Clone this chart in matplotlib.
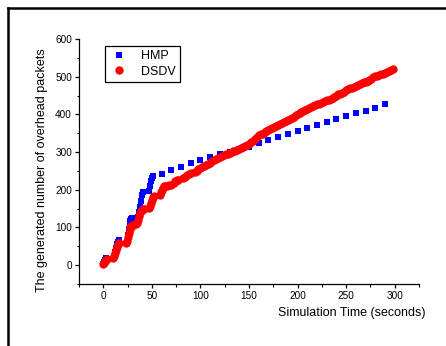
import matplotlib
matplotlib.use('Agg')
import matplotlib.pyplot as plt
from matplotlib.lines import Line2D

plt.rcParams['font.family'] = ['Liberation Sans', 'DejaVu Sans']

# HMP overhead packets (squares)
hmp_t = [0, 1, 2, 3,
         12, 13, 14, 15, 16,
         25, 26, 27, 28, 29, 30,
         36, 37, 38, 39, 40, 41,
         47, 48, 49, 50, 51,
         60, 70, 80, 90, 100, 110, 120, 130, 140, 150, 160, 170, 180,
         190, 200, 210, 220, 230, 240, 250, 260, 270, 280, 290]
hmp_v = [2, 8, 14, 20,
         35, 45, 55, 62, 66,
         80, 95, 108, 118, 122, 124,
         128, 140, 155, 170, 185, 195,
         198, 210, 222, 232, 236,
         243, 252, 261, 270, 279, 287, 294, 300, 307, 314, 324, 332, 340,
         349, 357, 365, 371, 380, 387, 395, 404, 410, 418, 427]

# DSDV overhead packets (circles)
dsdv_t = [0, 1, 2, 3, 4,
          10, 11, 12, 13, 14, 15, 16,
          23, 24, 25, 26, 27, 28, 29, 30, 31,
          34, 35, 36, 37, 38, 39, 40, 41, 42,
          47, 48, 49, 50, 51, 52,
          58, 59, 60, 61, 62,
          64, 66, 68, 70,
          73, 74, 75, 76, 77,
          82, 84, 86, 88, 90,
          94, 96, 98, 100, 102, 104, 106, 108, 110, 112, 114, 116, 118,
          120, 122, 124, 126, 128, 130, 132, 134, 136, 138, 140, 142, 144,
          146, 148, 150, 152, 154, 156, 158, 160, 162, 164, 166, 168, 170,
          172, 174, 176, 178, 180, 182, 184, 186, 188, 190, 192, 194, 196,
          198, 200, 202, 204, 206, 208, 210, 212, 214, 216, 218, 220, 222,
          224, 226, 228, 230, 232, 234, 236, 238, 240, 242, 244, 246, 248,
          250, 252, 254, 256, 258, 260, 262, 264, 266, 268, 270, 272, 274,
          276, 278, 280, 282, 284, 286, 288, 290, 292, 294, 296, 298]
dsdv_v = [2, 6, 10, 14, 17,
          20, 25, 32, 40, 48, 55, 58,
          60, 65, 75, 85, 95, 100, 103, 105, 106,
          110, 112, 120, 130, 138, 143, 146, 148, 149,
          152, 158, 166, 174, 180, 183,
          185, 193, 200, 206, 209,
          210, 211, 212, 213,
          218, 222, 224, 226, 226,
          230, 234, 238, 242, 244,
          246, 250, 254, 258, 261, 262, 265, 268, 272, 276, 279, 282, 284,
          286, 289, 291, 294, 296, 298, 300, 302, 304, 306, 308, 310, 313,
          316, 319, 322, 326, 330, 335, 340, 344, 347, 349, 352, 355, 358,
          360, 363, 366, 368, 371, 374, 377, 380, 382, 385, 388, 391, 394,
          398, 402, 405, 407, 410, 412, 414, 417, 420, 423, 425, 427, 428,
          430, 433, 436, 438, 439, 441, 444, 447, 450, 453, 455, 457, 460,
          464, 467, 470, 471, 473, 475, 478, 481, 484, 486, 487, 488, 491,
          494, 498, 501, 503, 505, 506, 508, 510, 513, 516, 519, 521]

fig = plt.figure(figsize=(4.46, 3.46), dpi=100)
ax = fig.add_axes([79/446, 1-284/346, 340/446, 245/346])

ax.plot(hmp_t, hmp_v, 's', color='#0000ff', markersize=5.0, markeredgewidth=0, label='HMP')
ax.plot(dsdv_t, dsdv_v, 'o', color='#ff0000', markersize=6.0, markeredgewidth=0, label='DSDV')

ax.set_xlim(-25, 325)
ax.set_ylim(-50, 600)
ax.set_xticks([0, 50, 100, 150, 200, 250, 300])
ax.set_xticks([-25, 25, 75, 125, 175, 225, 275, 325], minor=True)
ax.set_yticks([0, 100, 200, 300, 400, 500, 600])
ax.set_yticks([-50, 50, 150, 250, 350, 450, 550], minor=True)
ax.tick_params(which='major', direction='out', length=3, width=0.9, labelsize=7.2, pad=2)
ax.tick_params(which='minor', direction='out', length=1.8, width=0.8)
ax.spines['top'].set_visible(False)
ax.spines['right'].set_visible(False)
ax.spines['left'].set_linewidth(0.9)
ax.spines['bottom'].set_linewidth(0.9)

leg = ax.legend(loc='upper left', bbox_to_anchor=(0.0765, 0.971), borderaxespad=0,
                fontsize=9, fancybox=False, edgecolor='black', framealpha=1,
                handletextpad=1.0, borderpad=0.35, labelspacing=0.25, handlelength=1.5)
leg.get_frame().set_linewidth(0.9)

fig.text(426/446, 1-313/346, 'Simulation Time (seconds)', ha='right', va='center', fontsize=9)
fig.text(42/446, 1-170/346, 'The generated number of overhead packets', rotation=90,
         ha='center', va='center', fontsize=9)

# outer frame (top and left edges)
fig.add_artist(Line2D([7.5/446, 1], [1-8/346, 1-8/346], color='black', linewidth=1.8,
                      transform=fig.transFigure))
fig.add_artist(Line2D([8/446, 8/446], [0, 1-7.5/346], color='black', linewidth=1.8,
                      transform=fig.transFigure))

fig.savefig('out.png', dpi=100)
